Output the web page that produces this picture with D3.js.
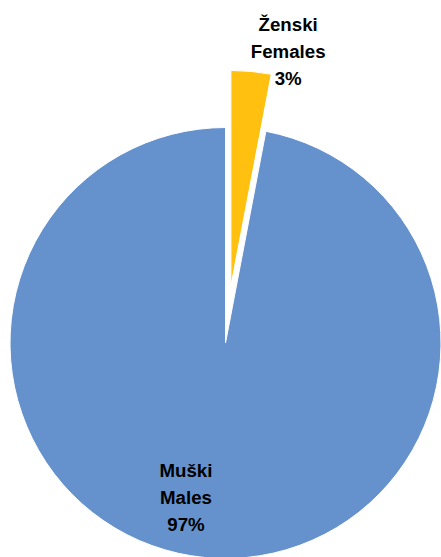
<!DOCTYPE html>
<html>
<head>
<meta charset="utf-8">
<script src="https://cdn.jsdelivr.net/npm/d3@7"></script>
<style>
  html, body { margin: 0; padding: 0; background: #fff; }
  svg { display: block; }
</style>
</head>
<body>
<svg id="chart" width="441" height="557"></svg>
<script>
// Data
const categories = ["Ženski", "Muški"];
const categoriesEn = ["Females", "Males"];
const values = [3, 97];
const colors = ["#FFC010", "#6592CD"];

// Layout
const W = 441, H = 557;
const cx = 225.5, cy = 343, R = 215.5;
const explode = [57.3, 0];
// label anchor (middle line baseline) in polar coordinates from pie centre (degrees clockwise from top)
const labelPolar = [{r: 291.8, a: 12.4}, {r: 165.8, a: 193.8}];
const lineGap = 26.7;

const svg = d3.select("#chart");
const g = svg.append("g").attr("transform", `translate(${cx},${cy})`);

const pie = d3.pie().sort(null).value(d => d.v);
const arcs = pie(values.map((v, i) => ({v, i})));
const arc = d3.arc().innerRadius(0).outerRadius(R);

g.selectAll("path.slice")
  .data(arcs)
  .join("path")
  .attr("class", "slice")
  .attr("d", arc)
  .attr("fill", (d, i) => colors[i])
  .attr("stroke", "#fff")
  .attr("stroke-width", 1)
  .attr("transform", (d, i) => {
    const mid = (d.startAngle + d.endAngle) / 2;
    const dx = Math.sin(mid) * explode[i], dy = -Math.cos(mid) * explode[i];
    return `translate(${dx},${dy})`;
  });

const total = d3.sum(values);
const labels = g.selectAll("text.lbl")
  .data(arcs)
  .join("text")
  .attr("class", "lbl")
  .attr("text-anchor", "middle")
  .attr("font-family", "'Liberation Sans', Arial, sans-serif")
  .attr("font-weight", "bold")
  .attr("font-size", 18.7)
  .attr("fill", "#000")
  .attr("transform", (d, i) => {
    const a = labelPolar[i].a * Math.PI / 180;
    return `translate(${Math.sin(a) * labelPolar[i].r},${-Math.cos(a) * labelPolar[i].r})`;
  });

labels.each(function(d, i) {
  const t = d3.select(this);
  const lines = [categories[i], categoriesEn[i], Math.round(values[i] / total * 100) + "%"];
  lines.forEach((s, k) => {
    t.append("tspan").attr("x", 0).attr("y", (k - 1) * lineGap).text(s);
  });
});
</script>
</body>
</html>
